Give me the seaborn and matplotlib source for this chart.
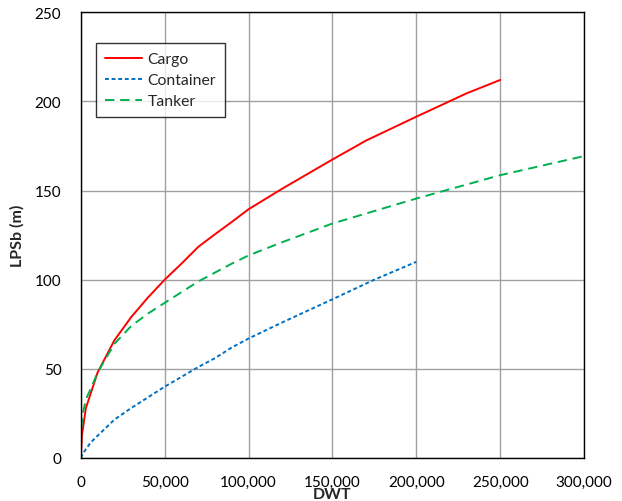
import matplotlib
matplotlib.use("Agg")
import matplotlib.pyplot as plt
from matplotlib.ticker import FuncFormatter
import seaborn as sns
import pandas as pd

# Length between perpendiculars vs deadweight tonnage, by ship type
cargo_dwt = [0, 600, 3000, 10000, 20000, 30000, 40000, 50000, 60000, 70000, 80000,
             90000, 100000, 120000, 150000, 170000, 200000, 230000, 250000]
cargo_lpp = [0, 12.5, 28, 48, 66, 79, 90, 100, 109, 118.4, 125.5,
             132.4, 139.5, 151, 167.4, 178, 191.4, 204.5, 212]

container_dwt = [0, 1000, 3000, 6000, 10000, 20000, 30000, 40000, 50000, 60000, 70000,
                 80000, 90000, 100000, 120000, 150000, 175000, 200000]
container_lpp = [0, 2, 5, 8.8, 12.5, 21.5, 28, 34, 40, 45.5, 51,
                 56, 62, 67, 76, 89, 100, 110]

tanker_dwt = [0, 200, 1000, 3000, 6000, 10000, 20000, 30000, 40000, 50000, 60000,
              70000, 80000, 90000, 100000, 120000, 150000, 200000, 250000, 300000]
tanker_lpp = [0, 16, 24, 33, 39, 48, 64, 74, 81, 87, 93,
              99, 104, 109, 113.6, 121, 131.5, 145.5, 158.6, 169.3]

x_ticks = [0, 50000, 100000, 150000, 200000, 250000, 300000]
y_ticks = [0, 50, 100, 150, 200, 250]

sns.set_style("white")
plt.rcParams["font.family"] = ["Lato", "DejaVu Sans"]

fig = plt.figure(figsize=(6.22, 5.02), dpi=100)
ax = fig.add_axes([0.130, 0.0857, 0.809, 0.888])

series = [
    ("Cargo", cargo_dwt, cargo_lpp, "#FF0000", "-"),
    ("Container", container_dwt, container_lpp, "#0070C0", (0, (2.0, 1.4))),
    ("Tanker", tanker_dwt, tanker_lpp, "#00B050", (0, (4.8, 3.0))),
]
for name, xs, ys, color, ls in series:
    df = pd.DataFrame({"DWT": xs, "LPP": ys})
    sns.lineplot(data=df, x="DWT", y="LPP", ax=ax, color=color, linestyle=ls,
                 linewidth=1.4, label=name, sort=False, estimator=None)

ax.set_xlim(0, 300000)
ax.set_ylim(0, 250)
ax.set_xticks(x_ticks)
ax.set_yticks(y_ticks)
ax.xaxis.set_major_formatter(FuncFormatter(lambda v, p: f"{int(v):,}"))
ax.grid(True, color="#A0A0A0", linewidth=1.0)
ax.set_axisbelow(True)
for s in ax.spines.values():
    s.set_color("black")
    s.set_linewidth(1.0)
ax.tick_params(axis="both", direction="out", length=5, width=1, color="black",
               labelsize=11, labelcolor="black")
ax.tick_params(axis="x", pad=7)
ax.tick_params(axis="y", pad=9)

ax.set_xlabel("DWT", fontsize=11.5, fontweight="bold")
ax.set_ylabel("LPSb (m)", fontsize=11.5, fontweight="bold")
ax.xaxis.set_label_coords(0.5, -0.066)
ax.yaxis.set_label_coords(-0.112, 0.5)

leg = ax.legend(loc="upper left", bbox_to_anchor=(0.03, 0.93), borderaxespad=0,
                frameon=True, fancybox=False, fontsize=11.3, handlelength=2.4,
                handletextpad=0.35, labelspacing=0.45, borderpad=0.55)
leg.get_frame().set_edgecolor("black")
leg.get_frame().set_linewidth(1.0)

fig.savefig("out.png", dpi=100)
